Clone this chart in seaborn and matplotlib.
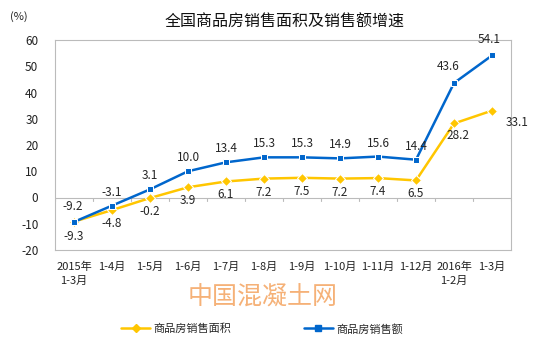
import matplotlib
matplotlib.use("Agg")
import matplotlib.pyplot as plt
import seaborn as sns
import pandas as pd
import numpy as np

categories = ["2015年\n1-3月", "1-4月", "1-5月", "1-6月", "1-7月", "1-8月", "1-9月",
              "1-10月", "1-11月", "1-12月", "2016年\n1-2月", "1-3月"]
area = [-9.2, -4.8, -0.2, 3.9, 6.1, 7.2, 7.5, 7.2, 7.4, 6.5, 28.2, 33.1]
amount = [-9.3, -3.1, 3.1, 10.0, 13.4, 15.3, 15.3, 14.9, 15.6, 14.4, 43.6, 54.1]
series_names = ["商品房销售面积", "商品房销售额"]

sns.set_theme(style="white")
plt.rcParams['font.family'] = ['Noto Sans CJK SC', 'DejaVu Sans']

df = pd.DataFrame({"cat": list(range(len(categories))) * 2,
                   "value": area + amount,
                   "series": [series_names[0]] * len(area) + [series_names[1]] * len(amount)})

fig = plt.figure(figsize=(5.48, 3.4), dpi=100)
ax = fig.add_axes([55/548, 1 - 250/340, 456/548, 210/340])

colors = {series_names[0]: "#FFC600", series_names[1]: "#0066CC"}
markers = {series_names[0]: "D", series_names[1]: "s"}
sns.lineplot(data=df, x="cat", y="value", hue="series", style="series",
             palette=colors, markers=markers, dashes=False, markersize=5,
             linewidth=1.8, ax=ax, legend=False)

ax.set_xlim(-0.5, len(categories) - 0.5)
ax.set_ylim(-20, 60)
ax.set_yticks(range(-20, 61, 10))
ax.set_yticklabels([str(v) for v in range(-20, 61, 10)], fontsize=8.5, color="#222222")
ax.set_xticks([])
ax.set_xlabel("")
ax.set_ylabel("")
ax.tick_params(axis="y", length=0, pad=12)
for s in ax.spines.values():
    s.set_color("#BBBBBB")
    s.set_linewidth(0.8)

# zero axis line with category ticks
ax.axhline(0, color="#BBBBBB", linewidth=0.8, zorder=0)
for i in range(len(categories) + 1):
    ax.plot([i - 0.5, i - 0.5], [0, -1.2], color="#BBBBBB", linewidth=0.8, zorder=0)

# category labels below plot
for i, c in enumerate(categories):
    ax.text(i, -24.5, c, ha="center", va="top", fontsize=8, color="#222222",
            linespacing=1.5, clip_on=False)

# data labels
fs = 8.5
for i, (a, b) in enumerate(zip(area, amount)):
    sa = f"{a:.1f}"
    sb = f"{b:.1f}"
    if i == 0:
        ax.annotate(sa, (i, a), xytext=(-1, 6), textcoords="offset points", ha="center", va="bottom", fontsize=fs)
        ax.annotate(sb, (i, b), xytext=(0, -6), textcoords="offset points", ha="center", va="top", fontsize=fs)
    elif i >= 10:
        ax.annotate(sb, (i, b), xytext=(-4 if i == 10 else -2, 7), textcoords="offset points", ha="center", va="bottom", fontsize=fs)
        ax.annotate(sa, (i, a), xytext=(3 if i == 10 else 18, -4), textcoords="offset points", ha="center", va="top", fontsize=fs)
    else:
        ax.annotate(sb, (i, b), xytext=(0, 5), textcoords="offset points", ha="center", va="bottom", fontsize=fs)
        ax.annotate(sa, (i, a), xytext=(0, -5), textcoords="offset points", ha="center", va="top", fontsize=fs)

fig.text(285/548, 1 - 22/340, "全国商品房销售面积及销售额增速", ha="center", va="center", fontsize=11.5, color="#111111")
fig.text(10/548, 1 - 17/340, "(%)", ha="left", va="center", fontsize=8, color="#222222")
fig.text(263/548, 1 - 298/340, "中国混凝土网", ha="center", va="center", fontsize=18, color="#F4A460", alpha=0.85)

# legend
from matplotlib.lines import Line2D
handles = [Line2D([], [], color=colors[n], marker=markers[n], markersize=4, linewidth=1.8) for n in series_names]
fig.legend(handles, series_names, loc="center", bbox_to_anchor=(262/548, 1 - 329/340), ncol=2,
           frameon=False, fontsize=8, columnspacing=6.5, handlelength=2.6, handletextpad=0.3)

fig.savefig("out.png", dpi=100)
